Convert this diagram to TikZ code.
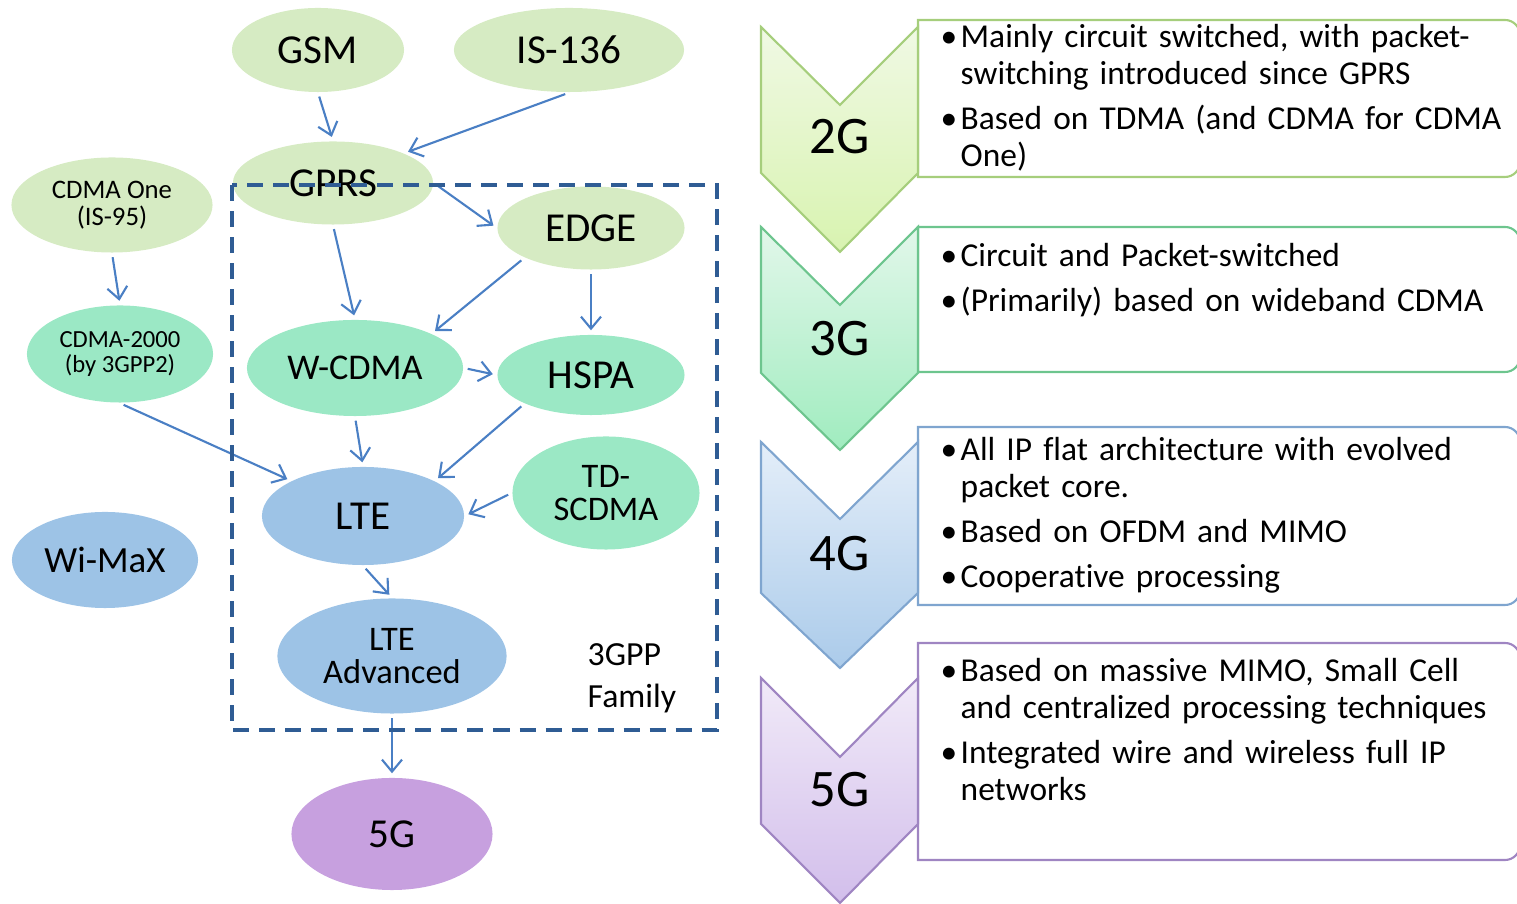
\documentclass[tikz,border=0pt]{standalone}
\usepackage{fontspec}
\setmainfont{Carlito}[Ligatures=NoCommon]
\usepackage{tikz}
\usetikzlibrary{shapes.geometric, arrows.meta}

\definecolor{gentwo}{HTML}{D6EBC3}
\definecolor{genthree}{HTML}{9BE8C5}
\definecolor{genfour}{HTML}{9DC3E6}
\definecolor{genfive}{HTML}{C7A0DF}
\definecolor{arrowblue}{HTML}{4A7FC4}
\definecolor{dashblue}{HTML}{2F5C94}
\definecolor{toptwo}{HTML}{F0F9E4}
\definecolor{bottwo}{HTML}{D8F3B0}
\definecolor{edgetwo}{HTML}{A6CE7C}
\definecolor{topthree}{HTML}{E2F7EA}
\definecolor{botthree}{HTML}{A0ECBF}
\definecolor{edgethree}{HTML}{6DC58E}
\definecolor{topfour}{HTML}{E4EEF9}
\definecolor{botfour}{HTML}{ABCBEA}
\definecolor{edgefour}{HTML}{7FA5CF}
\definecolor{topfive}{HTML}{F1EAF8}
\definecolor{botfive}{HTML}{D2BEEB}
\definecolor{edgefive}{HTML}{9F85C2}

\newcommand{\fsz}[2]{\fontsize{#1}{#2}\selectfont}
\newcommand{\bitem}{\makebox[0.2cm][l]{\textbullet}}
\newcommand{\bcont}{\hspace*{0.2cm}}

\tikzstyle{arrow} = [draw=arrowblue, line width=0.6pt, -{Straight Barb[length=0.12cm,width=0.2cm]}, shorten >=0.04cm, shorten <=0.04cm]
\tikzstyle{oval} = [ellipse, inner sep=0pt, align=center]
\tikzstyle{secondgen} = [oval, fill=gentwo]
\tikzstyle{thirdgen} = [oval, fill=genthree]
\tikzstyle{fourthgen} = [oval, fill=genfour]
\tikzstyle{fifthgen} = [oval, fill=genfive]
\tikzstyle{big} = [font=\fsz{11.7}{12}]
\tikzstyle{family} = [draw=dashblue, line width=1.2pt, dash pattern=on 0.16cm off 0.1cm]
\tikzstyle{infobox} = [fill=white, line width=0.6pt]
\tikzstyle{chevron} = [line width=0.6pt]
\tikzstyle{gentag} = [inner sep=0pt, font=\fsz{15}{15}]
\tikzstyle{bullets} = [anchor=base west, align=left, text width=5.8cm, inner sep=0pt, font=\fsz{9.5}{10.5}]

\begin{document}
\begin{tikzpicture}[x=0.01cm, y=-0.01cm]
\useasboundingbox (0,0) rectangle (1517,904);

%Nodes
\node[secondgen, big, minimum width=1.72cm, minimum height=0.84cm] (GSM) at (318,50) {GSM};
\node[secondgen, big, minimum width=2.3cm, minimum height=0.84cm] (IS136) at (569,50) {IS-136};
\node[secondgen, big, minimum width=2.0cm, minimum height=0.83cm] (GPRS) at (333,183) {GPRS};
\node[secondgen, font=\fsz{7.6}{7.6}, minimum width=2.01cm, minimum height=0.95cm] (CDMAone) at (112,205) {CDMA One\\(IS-95)};
\node[secondgen, big, minimum width=1.87cm, minimum height=0.83cm] (EDGE) at (591,228) {EDGE};
\node[thirdgen, font=\fsz{7.0}{7.0}, minimum width=1.86cm, minimum height=0.97cm] (CDMA2000) at (120,354) {CDMA-2000\\(by 3GPP2)};
\node[thirdgen, font=\fsz{10.3}{11}, minimum width=2.16cm, minimum height=0.96cm] (WCDMA) at (355,368) {W-CDMA};
\node[thirdgen, big, minimum width=1.87cm, minimum height=0.8cm] (HSPA) at (591,375) {HSPA};
\node[fourthgen, big, minimum width=2.02cm, minimum height=0.98cm] (LTE) at (363,516) {LTE};
\node[thirdgen, font=\fsz{9.8}{9.2}, minimum width=1.87cm, minimum height=1.13cm] (TDSCDMA) at (606,493) {TD-\\SCDMA};
\node[fourthgen, font=\fsz{10.5}{11}, minimum width=1.86cm, minimum height=0.96cm] (WiMaX) at (105,560) {Wi-MaX};
\node[fourthgen, font=\fsz{9.8}{9.4}, minimum width=2.29cm, minimum height=1.15cm] (LTEadv) at (392,656) {LTE\\Advanced};
\node[fifthgen, big, minimum width=2.01cm, minimum height=1.12cm] (FiveG) at (392,834) {5G};

\node[anchor=west, align=left, inner sep=0pt, font=\fsz{9.6}{12}] (famlabel) at (587,678) {3GPP\\Family};

%Lines
\draw[arrow] (GSM.south) -- (GPRS.north);
\draw[arrow] (IS136.south) -- (GPRS.north east);
\draw[arrow] (GPRS.east) -- (EDGE.west);
\draw[arrow] (GPRS.south) -- (WCDMA.north);
\draw[arrow] (EDGE.south west) -- (WCDMA.north east);
\draw[arrow] (EDGE.south) -- (HSPA.north);
\draw[arrow] (CDMAone.south) -- (CDMA2000.north);
\draw[arrow] (WCDMA.east) -- (HSPA.west);
\draw[arrow] (CDMA2000.south) -- (LTE.north west);
\draw[arrow] (WCDMA.south) -- (LTE.north);
\draw[arrow] (HSPA.south west) -- (LTE.north east);
\draw[arrow] (TDSCDMA.west) -- (LTE.east);
\draw[arrow] (LTE.south) -- (LTEadv.north);
\draw[arrow] (LTEadv.south) -- (FiveG.north);

\draw[family] (232,185) rectangle (717,730);

%Generations
\draw[infobox, draw=edgetwo] (918,177) -- (918,20) [rounded corners=0.15cm] -- (1520,20) -- (1520,177) [sharp corners] -- cycle;
\draw[infobox, draw=edgethree] (918,372) -- (918,227) [rounded corners=0.15cm] -- (1520,227) -- (1520,372) [sharp corners] -- cycle;
\draw[infobox, draw=edgefour] (918,605) -- (918,427) [rounded corners=0.15cm] -- (1520,427) -- (1520,605) [sharp corners] -- cycle;
\draw[infobox, draw=edgefive] (918,860) -- (918,643) [rounded corners=0.15cm] -- (1520,643) -- (1520,860) [sharp corners] -- cycle;

\shadedraw[chevron, top color=toptwo, bottom color=bottwo, draw=edgetwo] (761,27) -- (840,105) -- (918,27) -- (918,173) -- (840,252) -- (761,173) -- cycle;
\shadedraw[chevron, top color=topthree, bottom color=botthree, draw=edgethree] (761,227) -- (840,305) -- (918,227) -- (918,373) -- (840,450) -- (761,373) -- cycle;
\shadedraw[chevron, top color=topfour, bottom color=botfour, draw=edgefour] (761,442) -- (840,519) -- (918,442) -- (918,593) -- (840,668) -- (761,593) -- cycle;
\shadedraw[chevron, top color=topfive, bottom color=botfive, draw=edgefive] (761,678) -- (840,757) -- (918,678) -- (918,824) -- (840,903) -- (761,824) -- cycle;

\node[gentag] (tagtwo) at (840,137) {2G};
\node[gentag] (tagthree) at (840,339) {3G};
\node[gentag] (tagfour) at (840,554) {4G};
\node[gentag] (tagfive) at (840,790) {5G};

\node[bullets] (txttwo) at (940,48) {\bitem Mainly circuit switched, with packet-\\ \bcont switching introduced since GPRS\\[2.3pt] \bitem Based on TDMA (and CDMA for CDMA\\ \bcont One)};
\node[bullets] (txtthree) at (940,267) {\bitem Circuit and Packet-switched\\[2.3pt] \bitem (Primarily) based on wideband CDMA};
\node[bullets] (txtfour) at (940,461) {\bitem All IP flat architecture with evolved\\ \bcont packet core.\\[2.3pt] \bitem Based on OFDM and MIMO\\[2.3pt] \bitem Cooperative processing};
\node[bullets] (txtfive) at (940,682) {\bitem Based on massive MIMO, Small Cell\\ \bcont and centralized processing techniques\\[2.3pt] \bitem Integrated wire and wireless full IP\\ \bcont networks};
\end{tikzpicture}
\end{document}
